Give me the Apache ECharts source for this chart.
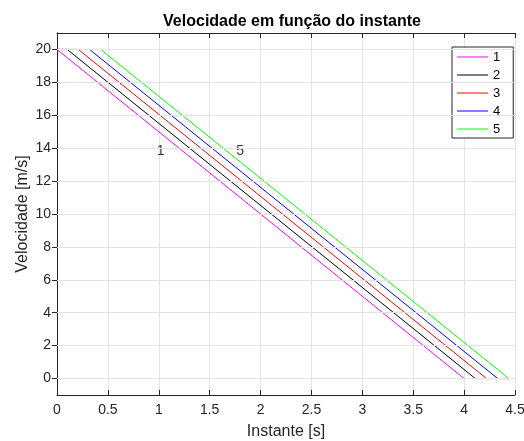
<!DOCTYPE html>
<html><head><meta charset="utf-8">
<script src="https://cdn.jsdelivr.net/npm/echarts@6/dist/echarts.min.js"></script>
<style>html,body{margin:0;padding:0;background:#fff}#c{width:524px;height:441px}</style>
</head><body><div id="c"></div>
<script>
const seriesNames = ['1','2','3','4','5'];
const seriesColors = ['#ff00ff','#000000','#ff0000','#0000ff','#00ff00'];
const t1 = [0, 4.00, 4.44]; const v1 = [20, 0, 0];
const t2 = [0, 0.10, 4.11, 4.44]; const v2 = [20, 20, 0, 0];
const t3 = [0, 0.21, 4.22, 4.44]; const v3 = [20, 20, 0, 0];
const t4 = [0, 0.32, 4.33, 4.44]; const v4 = [20, 20, 0, 0];
const t5 = [0, 0.43, 4.44]; const v5 = [20, 20, 0];
const xTicks = [0, 0.5, 1, 1.5, 2, 2.5, 3, 3.5, 4, 4.5];
const yTicks = [0, 2, 4, 6, 8, 10, 12, 14, 16, 18, 20];
const annoText = ['1', '5'];
const annoX = [0.98, 1.76];
const annoY = [13.85, 13.85];

const T = [t1,t2,t3,t4,t5], V = [v1,v2,v3,v4,v5];
const axisCol = '#262626', gridCol = '#e3e3e3';
const font = 'Liberation Sans, Arial, sans-serif';
const chart = echarts.init(document.getElementById('c'), null, {renderer:'canvas'});
const series = seriesNames.map((n,i)=>({
  name:n, type:'line', data:T[i].map((t,j)=>[t,V[i][j]]), showSymbol:false, symbol:'none',
  lineStyle:{color:seriesColors[i], width:1}, itemStyle:{color:seriesColors[i]}, animation:false, z:3
}));
series.push({
  name:'anno', type:'scatter', symbolSize:0, data:annoX.map((x,i)=>({value:[x,annoY[i]], label:{formatter:annoText[i]}})),
  label:{show:true, position:'right', distance:0, color:'#000', fontSize:14, fontFamily:font, textBorderWidth:0, backgroundColor:'transparent'},
  silent:true, animation:false, z:2
});
series.push({
  name:'grid', type:'line', data:[], silent:true, animation:false,
  markLine:{symbol:'none', silent:true, label:{show:false}, lineStyle:{color:gridCol, type:'solid', width:1}, data:yTicks.map(v=>({yAxis:v}))}, z:1
});
const yCommon = {type:'value', min:-1, max:21, interval:1,
  axisLine:{show:true, lineStyle:{color:axisCol}}, splitLine:{show:false}};
chart.setOption({
  animation:false,
  title:{text:'Velocidade em função do instante', left:287, top:9, textAlign:'center',
    textStyle:{fontSize:16, fontWeight:'bold', color:'#000', fontFamily:font}},
  grid:{left:57, right:9, top:33, bottom:46, containLabel:false, outerBoundsMode:'none'},
  legend:{data:seriesNames, orient:'vertical', left:452, top:47,
    backgroundColor:'#fff', borderColor:axisCol, borderWidth:1, padding:[3,13,2,5],
    itemWidth:31, itemHeight:1, itemGap:4, icon:'rect',
    textStyle:{fontSize:13, color:'#000', fontFamily:font, lineHeight:14}},
  xAxis:[{type:'value', min:0, max:4.5, interval:0.5, position:'bottom',
    name:'Instante [s]', nameLocation:'middle', nameGap:29, nameMoveOverlap:false,
    nameTextStyle:{fontSize:16, color:axisCol, fontFamily:font},
    axisLine:{show:true, onZero:false, lineStyle:{color:axisCol}},
    axisTick:{show:true, inside:true, length:5, lineStyle:{color:axisCol}},
    axisLabel:{color:axisCol, fontSize:14, fontFamily:font, margin:8, formatter:v=>String(v)},
    splitLine:{show:true, lineStyle:{color:gridCol}}},
   {type:'value', min:0, max:4.5, interval:0.5, position:'top',
    axisLine:{show:true, onZero:false, lineStyle:{color:axisCol}},
    axisTick:{show:true, inside:true, length:5, lineStyle:{color:axisCol}},
    axisLabel:{show:false}, splitLine:{show:false}}],
  yAxis:[Object.assign({}, yCommon, {position:'left',
    name:'Velocidade [m/s]', nameLocation:'middle', nameGap:26, nameMoveOverlap:false,
    nameTextStyle:{fontSize:16, color:axisCol, fontFamily:font},
    axisTick:{show:true, inside:true, length:5, lineStyle:{color:axisCol}, customValues:yTicks},
    axisLabel:{color:axisCol, fontSize:14, fontFamily:font, margin:6, customValues:yTicks}}),
   Object.assign({}, yCommon, {position:'right',
    axisTick:{show:true, inside:true, length:5, lineStyle:{color:axisCol}, customValues:yTicks},
    axisLabel:{show:false}})],
  series:series
});
</script></body></html>
